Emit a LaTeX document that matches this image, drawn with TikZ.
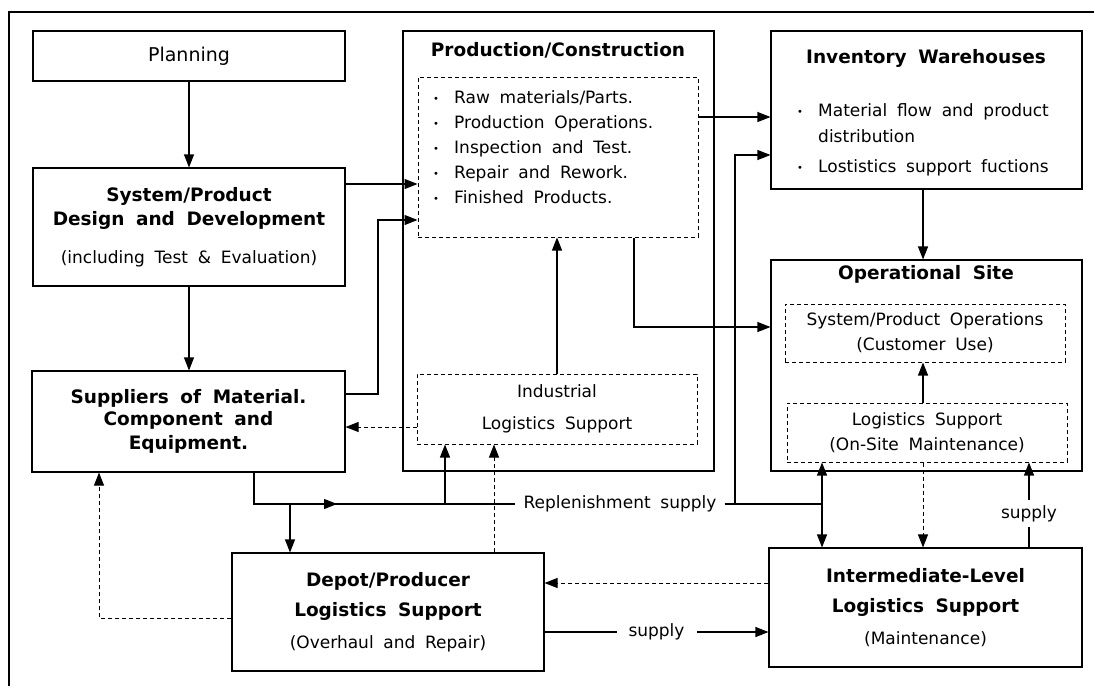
\documentclass[tikz,border=0pt]{standalone}
\usepackage{fontspec}
\setmainfont{DejaVu Sans}[WordSpace=1.8]
\usetikzlibrary{arrows.meta}
\newcommand{\ttlfont}{\fontsize{18.5}{24}\selectfont\bfseries}
\newcommand{\txtfont}{\normalfont\fontsize{17}{25}\selectfont}
\newcommand{\itm}{\makebox[22pt][l]{\hspace*{1pt}\raisebox{1pt}{\fontsize{10}{10}\selectfont •}}}
\tikzset{
  box/.style={draw, line width=1.1pt, align=center, inner sep=0pt},
  dbox/.style={box, line width=1pt, dash pattern=on 4pt off 3pt},
  ttl/.style={font=\ttlfont},
  txt/.style={font=\txtfont},
  line/.style={line width=1.1pt},
  arr/.style={line, -{Triangle[length=13pt,width=10pt]}},
  darr/.style={arr, line width=1pt, dash pattern=on 4pt off 3pt},
  lbl/.style={txt, fill=white, inner xsep=8pt, inner ysep=2pt}
}

\begin{document}
\begin{tikzpicture}[x=1pt, y=-1pt]
    \useasboundingbox (0,0) rectangle (1094,686);
    \draw[line width=2.5pt] (9,686) -- (9,12) -- (1094,12);

    % left column
    \node[box, font=\fontsize{19}{24}\selectfont, minimum width=312pt, minimum height=50pt] (plan) at (189,56) {Planning};
    \node[box, ttl, minimum width=312pt, minimum height=118pt] (sysdev) at (189,227)
        {System/Product\\ Design and Development\\[14pt] {\txtfont (including Test \& Evaluation)}};
    \node[box, font=\fontsize{18.5}{22}\selectfont\bfseries, minimum width=313pt, minimum height=101pt] (supp) at (188.5,421.5)
        {Suppliers of Material.\\ Component and\\[2pt] Equipment.};
    \node[box, ttl, minimum width=312pt, minimum height=118pt] (depot) at (388,612)
        {Depot/Producer\\[6pt] Logistics Support\\[8pt] {\txtfont (Overhaul and Repair)}};

    % production
    \node[box, minimum width=311pt, minimum height=440pt] (prod) at (558.5,251) {};
    \node[ttl] (prodttl) at (558,50) {Production/Construction};
    \node[dbox, minimum width=280pt, minimum height=160pt] (prodlist) at (558,157) {};
    \node[txt, align=left, anchor=west, inner sep=0pt] (prodtxt) at (432,147)
        {\itm Raw materials/Parts.\\ \itm Production Operations.\\ \itm Inspection and Test.\\
         \itm Repair and Rework.\\ \itm Finished Products.};
    \node[dbox, txt, font=\fontsize{17}{32}\selectfont, minimum width=280pt, minimum height=70pt] (indsup) at (557,409)
        {Industrial\\ Logistics Support};

    % right column
    \node[box, minimum width=311pt, minimum height=158pt] (inv) at (926.5,110) {};
    \node[ttl] (invttl) at (926,58) {Inventory Warehouses};
    \node[txt, font=\fontsize{17}{26}\selectfont, align=left, anchor=west, inner sep=0pt] (invtxt) at (796,140)
        {\itm Material flow and product\\ \hspace*{22pt}distribution\\[4pt] \itm Lostistics support fuctions};
    \node[box, minimum width=311pt, minimum height=211pt] (opsite) at (926.5,365.5) {};
    \node[ttl] (opttl) at (926,274) {Operational Site};
    \node[dbox, txt, minimum width=280pt, minimum height=58pt] (sysops) at (925,333)
        {System/Product Operations\\ (Customer Use)};
    \node[dbox, txt, minimum width=280pt, minimum height=59pt] (logsup) at (927,432.5)
        {Logistics Support\\ (On-Site Maintenance)};
    \node[box, ttl, minimum width=313pt, minimum height=119pt] (inter) at (925.5,607.5)
        {Intermediate-Level\\[6pt] Logistics Support\\[8pt] {\txtfont (Maintenance)}};

    \node[txt, inner xsep=8pt, inner ysep=2pt] (rep) at (620,504) {Replenishment supply};

    % connectors
    \draw[arr] (plan) -- (sysdev);
    \draw[arr] (sysdev) -- (supp.north -| sysdev);
    \draw[arr] (sysdev.east |- 0,184) -- (prodlist.west |- 0,184);
    \draw[arr] (supp.east |- 0,394) -| (378,220) -- (prodlist.west |- 0,220);
    \draw[arr] (prodlist.east |- 0,117) -- (inv.west |- 0,117);
    \draw[arr] (prodlist.south -| 634,0) |- (opsite.west |- 0,327);
    \draw[arr] (indsup.north) -- (prodlist.south -| indsup.north);
    \draw[darr] (indsup.west |- 0,427) -- (supp.east |- 0,427);

    \draw[arr] (supp.south -| 254,0) |- (337,504);
    \draw[line] (330,504) -- (rep.west);
    \draw[arr] (290,504) -- (depot.north -| 290,0);
    \draw[arr] (445,504) -- (indsup.south -| 445,0);
    \draw[arr] (rep.east) -| (735,155) -- (inv.west |- 0,155);
    \draw[line] (735,504) -- (822,504);
    \draw[line, {Triangle[length=13pt,width=10pt]}-{Triangle[length=13pt,width=10pt]}] (logsup.south -| 822,0) -- (inter.north -| 822,0);

    \draw[darr] (depot.north -| 494,0) -- (indsup.south -| 494,0);
    \draw[darr] (depot.west |- 0,618) -| (supp.south -| 99,0);
    \draw[darr] (inter.west |- 0,583) -- (depot.east |- 0,583);
    \draw[arr] (depot.east |- 0,632) -- node[lbl, inner xsep=12pt] (sup1) {supply} (inter.west |- 0,632);

    \draw[arr] (inv.south -| 923,0) -- (opsite.north -| 923,0);
    \draw[arr] (logsup.north -| 923,0) -- (sysops.south -| 923,0);
    \draw[darr] (logsup.south -| 923,0) -- (inter.north -| 923,0);
    \draw[arr] (inter.north -| 1029,0) -- node[lbl, inner ysep=5pt, pos=0.4] (sup2) {supply} (logsup.south -| 1029,0);
\end{tikzpicture}
\end{document}
